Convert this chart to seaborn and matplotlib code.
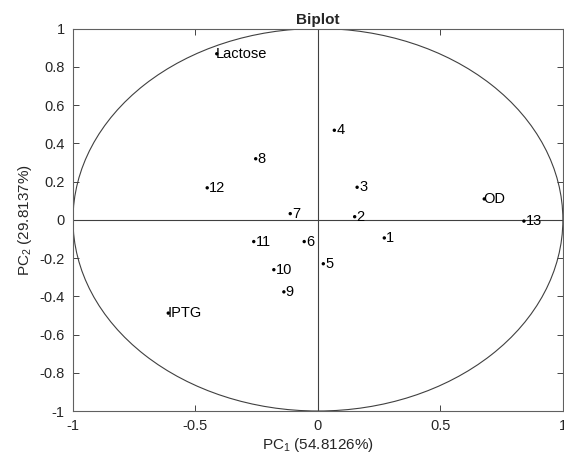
import matplotlib
matplotlib.use('Agg')
import matplotlib.pyplot as plt
import matplotlib.patches as mpatches
import pandas as pd
import seaborn as sns
import numpy as np

# scores / loadings
labels = ['Lactose', 'IPTG', 'OD', '1', '2', '3', '4', '5', '6', '7',
          '8', '9', '10', '11', '12', '13']
pc1 = [-0.413, -0.611, 0.679, 0.271, 0.150, 0.160, 0.067, 0.022, -0.056,
       -0.113, -0.254, -0.139, -0.180, -0.262, -0.452, 0.841]
pc2 = [0.868, -0.488, 0.109, -0.095, 0.016, 0.170, 0.468, -0.230, -0.114,
       0.032, 0.319, -0.377, -0.261, -0.114, 0.167, -0.007]
variables = ['Lactose', 'IPTG', 'OD']
xticks = [-1, -0.5, 0, 0.5, 1]
yticks = [-1, -0.8, -0.6, -0.4, -0.2, 0, 0.2, 0.4, 0.6, 0.8, 1]

df = pd.DataFrame({'label': labels, 'PC1': pc1, 'PC2': pc2})

sns.set_style('ticks')
plt.rcParams['font.family'] = ['Liberation Sans', 'DejaVu Sans']
plt.rcParams['axes.unicode_minus'] = False
plt.rcParams['mathtext.fontset'] = 'custom'
plt.rcParams['mathtext.rm'] = 'Liberation Sans'
plt.rcParams['mathtext.it'] = 'Liberation Sans'

fig = plt.figure(figsize=(5.64, 4.63), dpi=100)
ax = fig.add_axes([0.1294, 0.1123, 0.8686, 0.8261])

grey = '#262626'
ax.axhline(0, color='#404040', lw=0.8, zorder=1)
ax.axvline(0, color='#404040', lw=0.8, zorder=1)
ax.add_patch(mpatches.Circle((0, 0), 1, fill=False, ec='#404040', lw=0.8, zorder=1))

sns.scatterplot(data=df, x='PC1', y='PC2', color='black', s=6,
                edgecolor='none', ax=ax, zorder=3, legend=False)
for _, r in df.iterrows():
    # variable names sit right on their marker, observation numbers just after it
    dx = -0.004 if r['label'] in variables else 0.008
    ax.text(r['PC1'] + dx, r['PC2'], r['label'], fontsize=10.5,
            va='center', ha='left', color='black')

ax.set_xlim(-1, 1)
ax.set_ylim(-1, 1)
ax.set_xticks(xticks)
ax.set_xticklabels(['%g' % t for t in xticks])
ax.set_yticks(yticks)
ax.set_yticklabels(['%g' % t for t in yticks])
ax.tick_params(direction='in', length=4, width=0.6, top=True, right=True,
               labelsize=10.5, colors=grey, pad=6)
for sp in ax.spines.values():
    sp.set_visible(True)
    sp.set_color('#606060')
    sp.set_linewidth(0.8)

ax.set_xlabel('PC$_1$ (54.8126%)', fontsize=11, color=grey, labelpad=2)
ax.set_ylabel('PC$_2$ (29.8137%)', fontsize=11, color=grey, labelpad=4)
ax.set_title('Biplot', fontsize=11, fontweight='bold', pad=3)

fig.savefig('out.png', dpi=100)
